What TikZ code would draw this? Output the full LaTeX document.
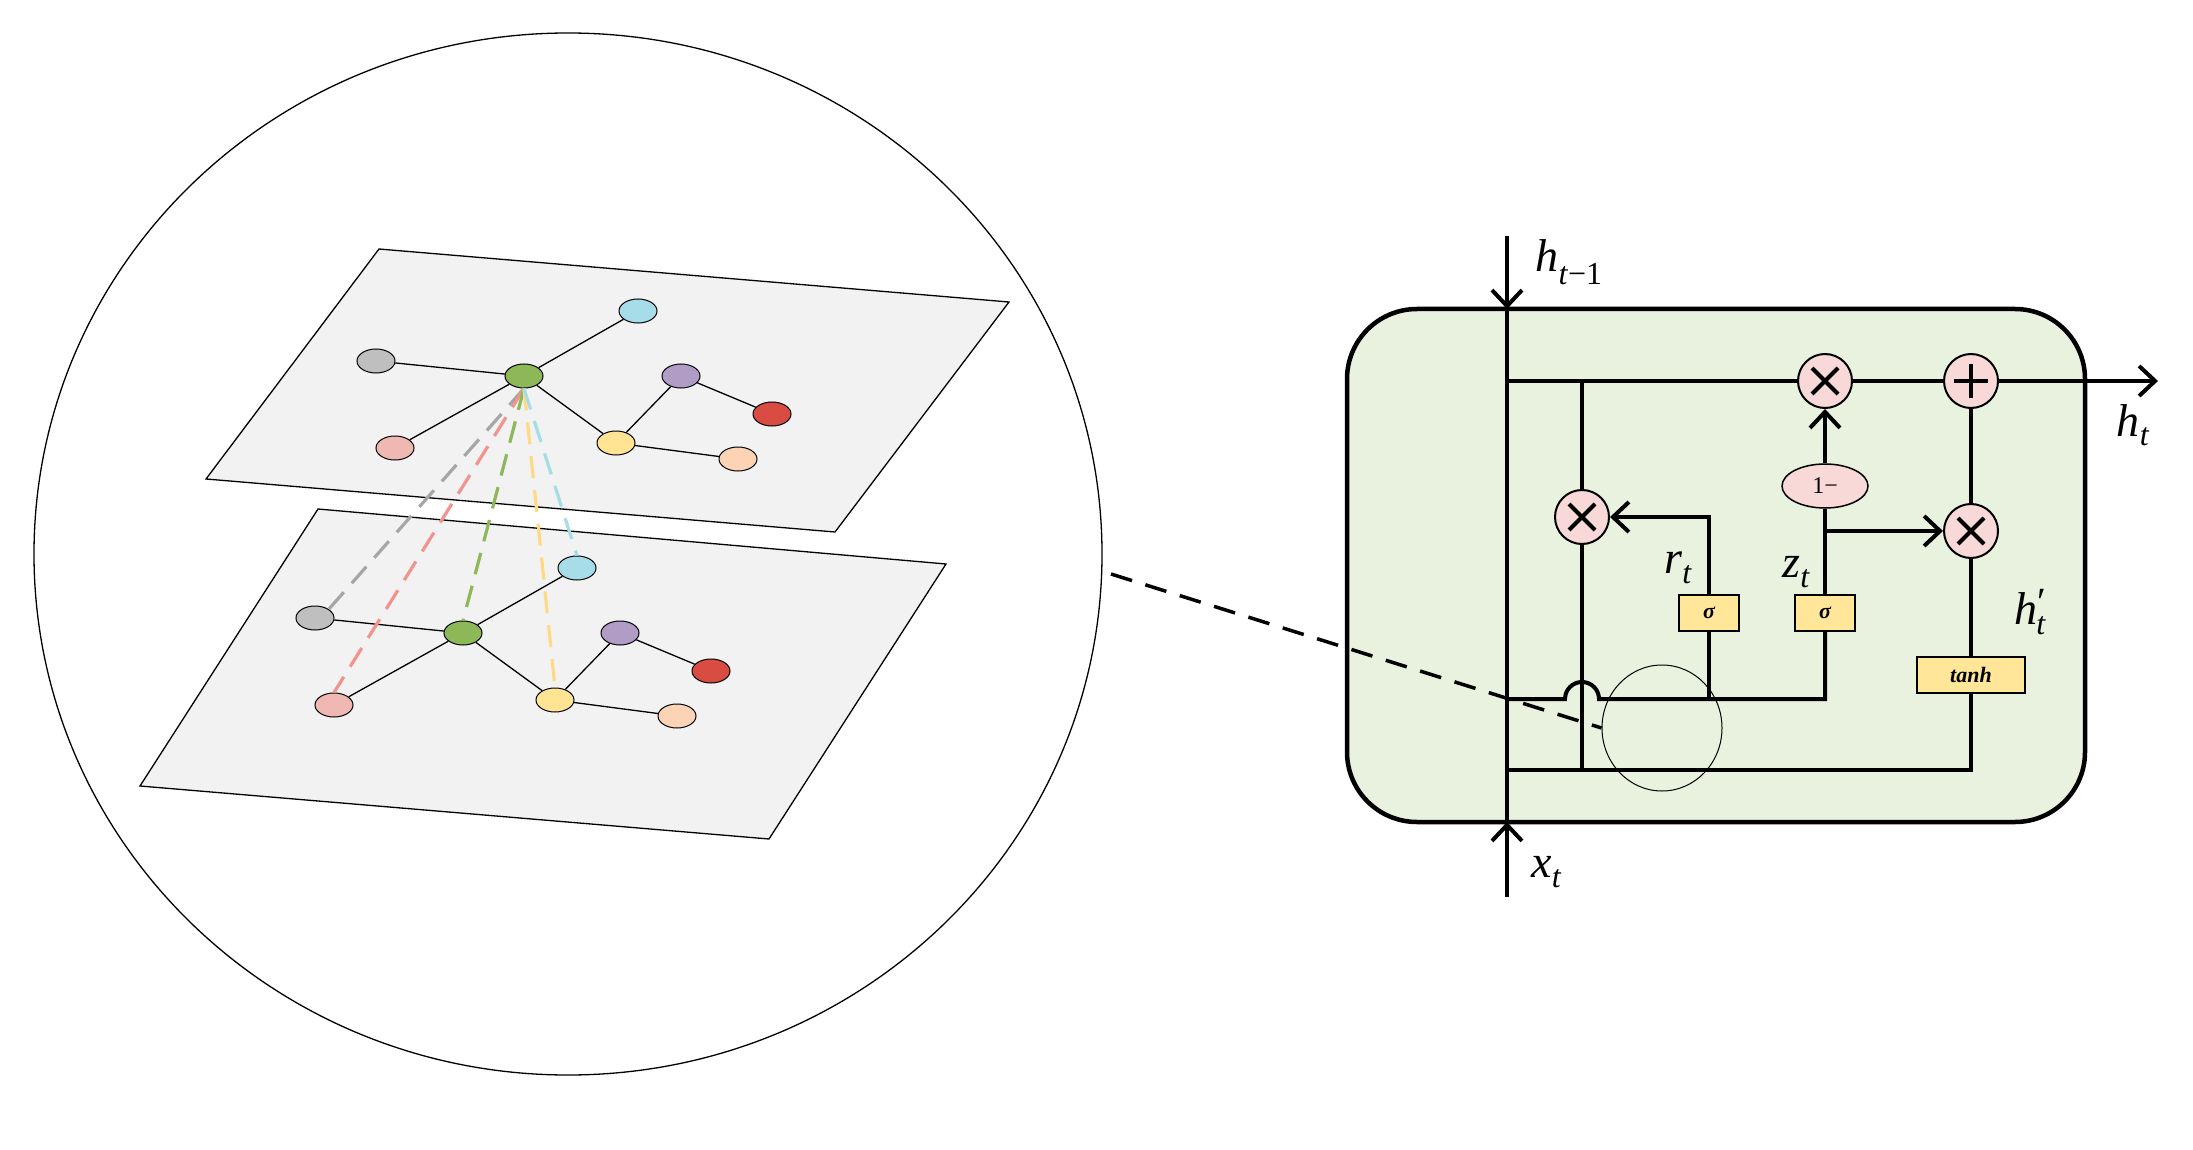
\documentclass[tikz,border=0pt]{standalone}
\usepackage{fontspec}
\setmainfont{Liberation Serif}
\usetikzlibrary{shapes.geometric,arrows.meta,calc}
\definecolor{plane}{HTML}{F2F2F2}
\definecolor{cgray}{HTML}{BFBFBF}
\definecolor{cgreen}{HTML}{8DB858}
\definecolor{ccyan}{HTML}{A6DDE8}
\definecolor{cpurple}{HTML}{B09CC4}
\definecolor{cred}{HTML}{D94C42}
\definecolor{cpink}{HTML}{F0B8B2}
\definecolor{cyellow}{HTML}{FFE494}
\definecolor{cpeach}{HTML}{FCD3B4}
\definecolor{cellbg}{HTML}{E9F1DF}
\definecolor{opfill}{HTML}{F8D9D7}
\definecolor{boxfill}{HTML}{FFE699}
\begin{document}
\begin{tikzpicture}[x=1pt,y=-1pt,
  gn/.style={ellipse,draw,line width=1pt,minimum width=38pt,minimum height=24pt,inner sep=0pt},
  ge/.style={line width=1.3pt},
  th/.style={line width=4pt},
  op/.style={circle,draw,line width=2pt,fill=opfill,minimum size=54pt,inner sep=0pt},
  bx/.style={draw,line width=1.5pt,fill=boxfill,inner sep=0pt,font=\fontsize{22}{22}\selectfont\bfseries\itshape},
  lab/.style={font=\fontsize{46}{46}\selectfont\itshape},
  arr/.style={-{Straight Barb[length=16pt,width=30pt,line width=4pt]}}
]
\useasboundingbox (0,0) rectangle (2193,1150);
% left big circle
\draw[line width=1.3pt] (568,554) ellipse [x radius=534, y radius=521];
\coordinate (cr) at (1111,574);
% planes
\draw[line width=1.3pt,fill=plane] (379,249) -- (1009,302) -- (835,532) -- (206,479) -- cycle;
\draw[line width=1.3pt,fill=plane] (318,509) -- (946,564) -- (769,839) -- (140,786) -- cycle;
% lower graph
\begin{scope}[shift={(-61,257)}]
\node[gn,fill=ccyan] (lc) at (638,311) {};
\node[gn,fill=cgray] (lg) at (376,361) {};
\node[gn,fill=cgreen] (lgr) at (524,376) {};
\node[gn,fill=cpurple] (lp) at (681,376) {};
\node[gn,fill=cred] (lr) at (772,414) {};
\node[gn,fill=cpink] (lpk) at (395,448) {};
\node[gn,fill=cyellow] (ly) at (616,443) {};
\node[gn,fill=cpeach] (lpe) at (738,459) {};
\end{scope}
\draw[ge] (lg)--(lgr) (lgr)--(lc) (lgr)--(lpk) (lgr)--(ly) (ly)--(lp) (lp)--(lr) (ly)--(lpe);
% upper graph
\node[gn,fill=ccyan] (uc) at (638,311) {};
\node[gn,fill=cgray] (ug) at (376,361) {};
\node[gn,fill=cgreen] (ugr) at (524,376) {};
\node[gn,fill=cpurple] (up) at (681,376) {};
\node[gn,fill=cred] (ur) at (772,414) {};
\node[gn,fill=cpink] (upk) at (395,448) {};
\node[gn,fill=cyellow] (uy) at (616,443) {};
\node[gn,fill=cpeach] (upe) at (738,459) {};
\draw[ge] (ug)--(ugr) (ugr)--(uc) (ugr)--(upk) (ugr)--(uy) (uy)--(up) (up)--(ur) (uy)--(upe);
% dashed projections
\begin{scope}[line width=3.2pt,dash pattern=on 22pt off 12pt]
\draw[color=black!35] (ugr.south) -- (lg.north east);
\draw[color=cpink!80!red] (ugr.south) -- (lpk.north);
\draw[color=cgreen] (ugr.south) -- (lgr.north);
\draw[color=cyellow!90!orange] (ugr.south) -- (ly.north);
\draw[color=ccyan] (ugr.south) -- (lc.north);
\end{scope}
% GRU cell
\draw[line width=4.5pt,fill=cellbg,rounded corners=70pt] (1347,309) rectangle (2085,822);
\coordinate (top) at (1507,236);
\coordinate (bot) at (1507,897);
\coordinate (tin) at (1507,309);
\coordinate (bin) at (1507,822);
\draw[th] (top) -- (bot);
\draw[th,arr] (top) -- (tin);
\draw[th,arr] (bot) -- (bin);
\node[lab,anchor=west] (hl) at (1532,262) {h\textsubscript{\fontsize{32}{32}\selectfont\textit{t}\textup{−1}}};
\node[lab,anchor=west] (xl) at (1528,872) {x\textsubscript{\fontsize{32}{32}\selectfont\textit{t}}};
% ops
\node[op] (m1) at (1825,381) {};
\node[op] (pl) at (1971,381) {};
\node[op] (mr) at (1582,517) {};
\node[op] (m2) at (1971,531) {};
\node[ellipse,draw,line width=1.5pt,fill=opfill,minimum width=86pt,minimum height=44pt,inner sep=0pt,font=\fontsize{24}{24}\selectfont] (om) at (1825,486) {1−};
\foreach \n in {m1,mr,m2}{
 \draw[line width=4pt] ($(\n)+(-13,-13)$) -- ($(\n)+(13,13)$) ($(\n)+(-13,13)$) -- ($(\n)+(13,-13)$);}
\draw[line width=4pt] ($(pl)+(-17,0)$) -- ($(pl)+(17,0)$) ($(pl)+(0,-17)$) -- ($(pl)+(0,17)$);
% boxes
\node[bx,minimum width=60pt,minimum height=36pt] (rs) at (1709,613) {σ};
\node[bx,minimum width=60pt,minimum height=36pt] (zs) at (1825,613) {σ};
\node[bx,minimum width=108pt,minimum height=36pt] (th) at (1971,675) {tanh};
% lines
\coordinate (t1) at (1507,381);
\coordinate (t2) at (1582,381);
\draw[th] (t1) -- (m1.west);
\draw[th] (m1.east) -- (pl.west);
\coordinate (hout) at (2158,381);
\draw[th,arr] (pl.east) -- (hout);
\node[lab] (hlab) at (2133,425) {h\textsubscript{\fontsize{32}{32}\selectfont\textit{t}}};
\draw[th] (t2) -- (mr.north);
\coordinate (bl) at (1582,770);
\draw[th] (mr.south) -- (bl);
\coordinate (rc) at (1709,517);
\draw[th,arr] (rs.north) -- (rc) -- (mr.east);
\draw[th] (zs.north) -- (om.south);
\draw[th,arr] (om.north) -- (m1.south);
\coordinate (zb) at (1825,531);
\draw[th,arr] (zb) -- (m2.west);
\draw[th] (m2.north) -- (pl.south);
\draw[th] (m2.south) -- (th.north);
\coordinate (b1) at (1507,770);
\coordinate (b2) at (1971,770);
\draw[th] (b1) -- (b2) -- (th.south);
% middle bus with hop
\coordinate (h1) at (1507,699);
\coordinate (h2) at (1825,699);
\draw[th] (h1) -- (1565,699) arc[start angle=180,end angle=360,radius=17] -- (h2) -- (zs.south);
\coordinate (rb) at (1709,699);
\draw[th] (rs.south) -- (rb);
\node[lab] (rl) at (1678,568) {r\textsubscript{\fontsize{32}{32}\selectfont\textit{t}}};
\node[lab] (zl) at (1796,572) {z\textsubscript{\fontsize{32}{32}\selectfont\textit{t}}};
\node[lab] (hpl) at (2030,612) {h\textsuperscript{\fontsize{40}{40}\selectfont\textup{′}}\hspace{-10pt}\textsubscript{\fontsize{32}{32}\selectfont\textit{t}}};
% small circle and dashed connector
\node[ellipse,draw,line width=1pt,minimum width=120pt,minimum height=126pt] (sc) at (1662,728) {};
\draw[line width=3.5pt,dash pattern=on 22pt off 14pt] (cr) -- (sc.west);
\end{tikzpicture}
\end{document}
